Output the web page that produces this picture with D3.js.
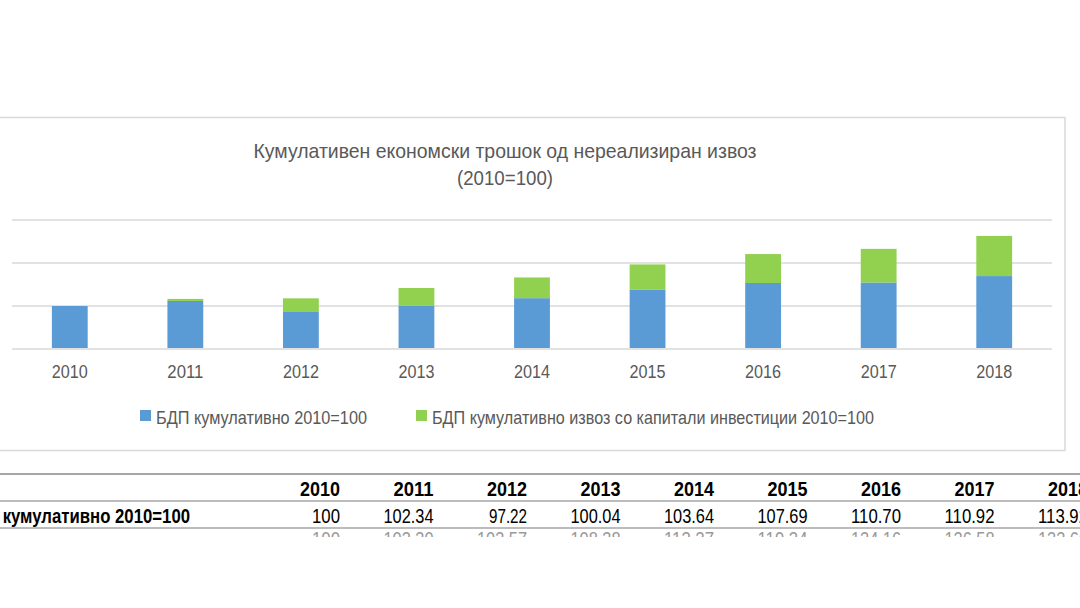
<!DOCTYPE html>
<html><head><meta charset="utf-8">
<script src="https://d3js.org/d3.v7.min.js"></script>
<style>body{margin:0;background:#fff}svg{display:block}</style>
</head><body><svg width="1080" height="608"></svg>
<script>
const years = ["2010","2011","2012","2013","2014","2015","2016","2017","2018"];
const gdp = [100, 102.34, 97.22, 100.04, 103.64, 107.69, 110.70, 110.92, 113.92];
const gdpExport = [100, 103.30, 103.57, 108.38, 113.27, 119.34, 124.16, 126.58, 132.60];
const yTicks = [80, 100, 120, 140];
const seriesNames = ["БДП кумулативно 2010=100", "БДП кумулативно извоз со капитали инвестиции 2010=100"];

const svg = d3.select("svg");
const blue = "#5b9bd5", green = "#92d050";
const tf = "Liberation Sans Narrow, Arial Narrow, Liberation Sans, sans-serif";

// chart frame
svg.append("rect").attr("x", -5).attr("y", 117.5).attr("width", 1070).attr("height", 333)
  .attr("fill", "none").attr("stroke", "#d9d9d9").attr("stroke-width", 1.5);

svg.append("text").attr("x", 505).attr("y", 158).attr("text-anchor", "middle")
  .attr("font-family", tf).attr("font-size", 21).attr("fill", "#595959")
  .attr("textLength", 503).attr("lengthAdjust", "spacingAndGlyphs")
  .text("Кумулативен економски трошок од нереализиран извоз");
svg.append("text").attr("x", 505).attr("y", 185).attr("text-anchor", "middle")
  .attr("font-family", tf).attr("font-size", 21).attr("fill", "#595959")
  .attr("textLength", 96).attr("lengthAdjust", "spacingAndGlyphs")
  .text("(2010=100)");

const x = d3.scaleBand().domain(years).range([12, 1052]).paddingInner(0.69).paddingOuter(0.345);
const y = d3.scaleLinear().domain([80, 140]).range([349, 220]);

svg.append("g").selectAll("line").data(yTicks).join("line")
  .attr("x1", 12).attr("x2", 1052).attr("y1", d => y(d)).attr("y2", d => y(d))
  .attr("stroke", "#d9d9d9").attr("stroke-width", 1.5);

svg.append("g").selectAll("rect").data(years).join("rect")
  .attr("x", d => x(d)).attr("width", x.bandwidth())
  .attr("y", (d, i) => y(gdp[i])).attr("height", (d, i) => y(80) - y(gdp[i]) - 1)
  .attr("fill", blue);
svg.append("g").selectAll("rect").data(years).join("rect")
  .attr("x", d => x(d)).attr("width", x.bandwidth())
  .attr("y", (d, i) => y(Math.max(gdpExport[i], gdp[i])))
  .attr("height", (d, i) => Math.max(0, y(gdp[i]) - y(gdpExport[i])))
  .attr("fill", green);

const xa = svg.append("g").attr("transform", "translate(0,349)")
  .call(d3.axisBottom(x).tickSize(0).tickPadding(16));
xa.select(".domain").remove();
xa.selectAll("text").attr("font-family", tf)
  .attr("font-size", 19).attr("fill", "#595959")
  .attr("textLength", 36).attr("lengthAdjust", "spacingAndGlyphs");

// legend
const lg = svg.append("g");
[[140, 0, 211], [416, 1, 442]].forEach(([lx, i, w]) => {
  lg.append("rect").attr("x", lx).attr("y", 410).attr("width", 11).attr("height", 11).attr("fill", i ? green : blue);
  lg.append("text").attr("x", lx + 16).attr("y", 424).attr("font-family", tf)
    .attr("font-size", 19).attr("fill", "#595959")
    .attr("textLength", w).attr("lengthAdjust", "spacingAndGlyphs").text(seriesNames[i]);
});

// table below
const tx = d3.scalePoint().domain(years).range([340, 1088]);
svg.append("line").attr("x1", 0).attr("x2", 1080).attr("y1", 474).attr("y2", 474).attr("stroke", "#a6a6a6").attr("stroke-width", 2);
svg.append("line").attr("x1", 0).attr("x2", 1080).attr("y1", 501).attr("y2", 501).attr("stroke", "#a6a6a6").attr("stroke-width", 1.5);
svg.append("line").attr("x1", 0).attr("x2", 1080).attr("y1", 528).attr("y2", 528).attr("stroke", "#a6a6a6").attr("stroke-width", 1.5);
svg.append("g").selectAll("text").data(years).join("text")
  .attr("x", d => tx(d)).attr("y", 496).attr("text-anchor", "end")
  .attr("font-family", tf).attr("font-weight", "bold").attr("font-size", 20)
  .attr("textLength", 40).attr("lengthAdjust", "spacingAndGlyphs").text(d => d);
svg.append("text").attr("x", 190).attr("y", 523).attr("text-anchor", "end")
  .attr("font-family", tf).attr("font-weight", "bold").attr("font-size", 20)
  .attr("textLength", 228).attr("lengthAdjust", "spacingAndGlyphs").text(seriesNames[0]);
svg.append("g").selectAll("text").data(gdp).join("text")
  .attr("x", (d, i) => tx(years[i])).attr("y", 523).attr("text-anchor", "end")
  .attr("font-family", tf).attr("font-size", 20)
  .attr("textLength", d => d === 100 ? 28 : (d < 100 ? 38 : 50)).attr("lengthAdjust", "spacingAndGlyphs")
  .text(d => d === 100 ? "100" : d.toFixed(2));
svg.append("clipPath").attr("id", "cut").append("rect").attr("x", 0).attr("y", 530).attr("width", 1080).attr("height", 7);
svg.append("g").attr("clip-path", "url(#cut)").selectAll("text").data(gdpExport).join("text")
  .attr("x", (d, i) => tx(years[i])).attr("y", 546).attr("text-anchor", "end")
  .attr("font-family", tf).attr("font-size", 20).attr("fill", "#999")
  .attr("textLength", d => d === 100 ? 28 : 50).attr("lengthAdjust", "spacingAndGlyphs")
  .text(d => d === 100 ? "100" : d.toFixed(2));
</script></body></html>
